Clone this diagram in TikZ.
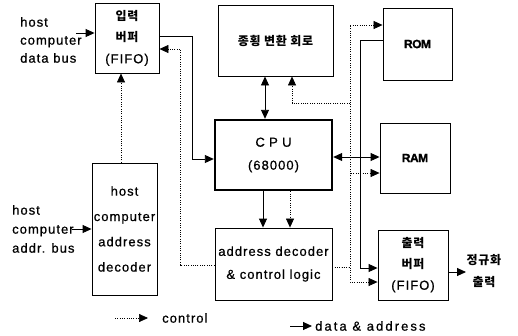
\documentclass[tikz,border=0pt]{standalone}
\usepackage{fontspec}
\setmainfont{Liberation Sans}[LetterSpace=8,FakeBold=0.7]
\newfontfamily\krfont{Noto Sans CJK KR}[LetterSpace=6]
\usetikzlibrary{arrows.meta}
\newcommand\krt[1]{{\krfont\bfseries\fontsize{12}{13}\selectfont #1}}
\begin{document}
\begin{tikzpicture}[x=1pt,y=-1pt,
  box/.style={draw,line width=0.9pt,inner sep=0pt,align=center},
  txt/.style={inner sep=0pt,font=\fontsize{13}{18}\selectfont},
  dat/.style={line width=0.9pt},
  ctl/.style={line width=0.7pt,dash pattern=on 1pt off 1.3pt},
  tip/.style={-{Triangle[length=9pt,width=8pt]}},
  both/.style={{Triangle[length=9pt,width=8pt]}-{Triangle[length=9pt,width=8pt]}},
  memtxt/.style={font=\bfseries\fontsize{12}{13}\selectfont\addfontfeature{LetterSpace=-4,FakeBold=1.5}}]
\useasboundingbox (0,0) rectangle (518,335);

% boxes
\node[box,minimum width=64pt,minimum height=70pt,font=\fontsize{13}{21.5}\selectfont] (in) at (127,38) {\krt{입력}\\\krt{버퍼}\\(FIFO)};
\node[box,minimum width=65pt,minimum height=132pt,font=\fontsize{13}{25.3}\selectfont] (hdec) at (124.5,229) {host\\computer\\address\\decoder};
\node[box,minimum width=115pt,minimum height=71pt] (conv) at (275.5,40.5) {\krt{종횡 변환 회로}};
\node[box,memtxt,minimum width=69pt,minimum height=72pt] (rom) at (417.5,44) {ROM};
\node[box,line width=2.4pt,minimum width=117pt,minimum height=70pt,font=\fontsize{13}{23}\selectfont] (cpu) at (273.5,155) {C\,\,P\,\,U\\(68000)};
\node[box,memtxt,minimum width=70pt,minimum height=70pt] (ram) at (415,158) {RAM};
\node[box,minimum width=117pt,minimum height=72pt,font=\fontsize{13}{23}\selectfont] (dec) at (273.5,264) {address decoder\\\& control logic};
\node[box,minimum width=70pt,minimum height=70pt,font=\fontsize{13}{21}\selectfont] (out) at (413,265) {\krt{출력}\\\krt{버퍼}\\(FIFO)};

% outside texts
\node[txt,align=left,anchor=west] (dbus) at (20,40) {host\\computer\\data bus};
\node[txt,align=left,anchor=west,font=\fontsize{13}{19}\selectfont] (abus) at (12,229) {host\\computer\\addr. bus};
\node[inner sep=0pt,align=center,font=\fontsize{11}{22}\selectfont] (norm) at (484,271) {\krt{정규화}\\\krt{출력}};

\coordinate (dbusend) at (76,33);
\coordinate (abusend) at (72,229);
\coordinate (normend) at (466,272);

% solid connectors
\draw[dat,tip] (dbusend) -- (in.west|-dbusend);
\draw[dat,tip] (abusend) -- (hdec.west|-abusend);
\draw[dat,tip] (in.east|-0,36) -| (192,159) -- (cpu.west|-0,159);
\draw[dat,both] (conv.south-|265,0) -- (cpu.north-|265,0);
\draw[dat,tip] (cpu.south-|263,0) -- (dec.north-|263,0);
\draw[dat,both] (cpu.east|-0,157) -- (ram.west|-0,157);
\draw[dat,tip] (rom.west|-0,40) -| (360,268) -- (out.west|-0,268);
\draw[dat,tip] (out.east|-normend) -- (normend);

% control connectors
\draw[ctl,tip] (hdec.north-|121,0) -- (in.south-|121,0);
\draw[ctl,tip] (dec.west|-0,265) -| (180,49) -- (in.east|-0,49);
\draw[ctl,tip] (cpu.south-|290,0) -- (dec.north-|290,0);
\draw[ctl,tip] (dec.east|-0,267) -| (350,25) -- (rom.west|-0,25);
\draw[ctl,tip] (dec.east|-0,267) -| (350,173) -- (ram.west|-0,173);
\draw[ctl,tip] (dec.east|-0,267) -| (350,282) -- (out.west|-0,282);
\draw[ctl,tip] (dec.east|-0,267) -| (350,103) -| (conv.south-|292,0);

% legend
\coordinate (lc1) at (115,318);
\coordinate (lc2) at (148,318);
\coordinate (ld1) at (290,326);
\coordinate (ld2) at (312,326);
\draw[ctl,tip] (lc1) -- (lc2);
\draw[dat,tip] (ld1) -- (ld2);
\node[txt,anchor=west] (lctl) at (162,318) {control};
\node[txt,anchor=west,font=\fontsize{13}{18}\selectfont\addfontfeature{LetterSpace=16}] (ldat) at (315,326) {data \& address};
\end{tikzpicture}
\end{document}
